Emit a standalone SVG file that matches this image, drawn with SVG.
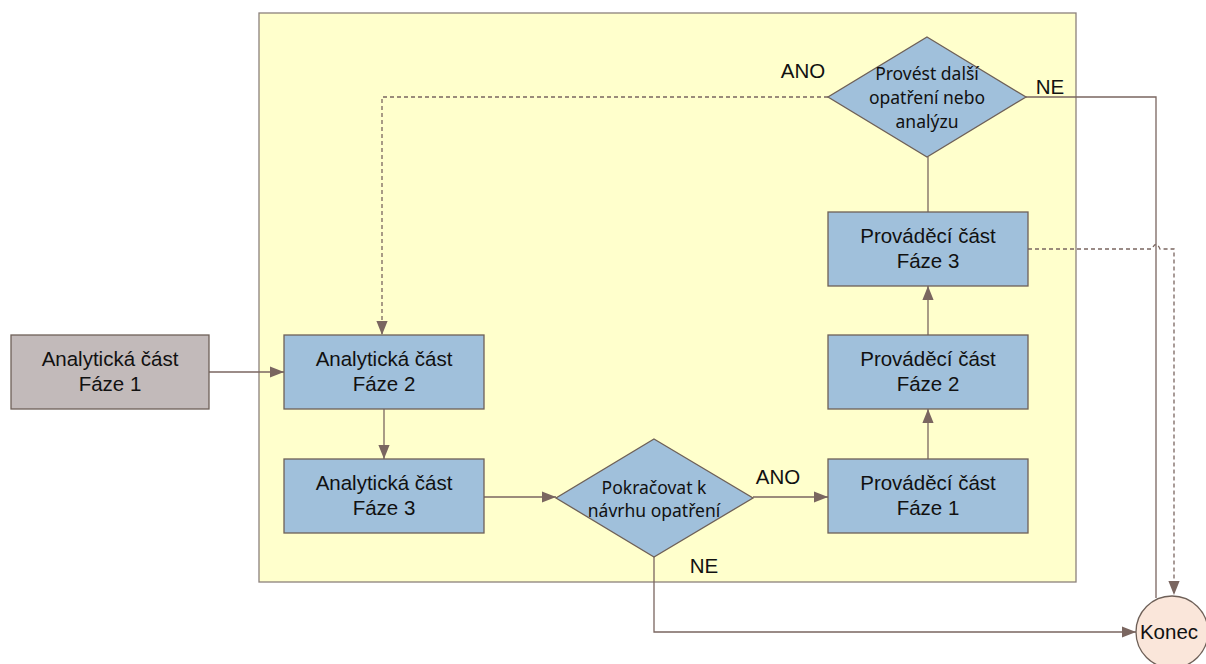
<svg xmlns="http://www.w3.org/2000/svg" width="1206" height="664" viewBox="0 0 1206 664">
  <style>
    .box { fill: #A0C0DB; stroke: #6E6058; stroke-width: 1.3; }
    .start { fill: #C2BABA; stroke: #6E6058; stroke-width: 1.3; }
    .end { fill: #FAE6DA; stroke: #6E6058; stroke-width: 1.3; }
    .lbl { font-family: "Liberation Sans", Arial, sans-serif; font-size: 20.5px; fill: #111; text-anchor: middle; }
    .dlbl { font-family: "Noto Sans", "Open Sans", sans-serif; font-size: 17.5px; fill: #111; text-anchor: middle; }
    .edge { fill: none; stroke: #7A6660; stroke-width: 1.3; }
    .dash { stroke-dasharray: 4 3; }
  </style>
  <defs>
    <marker id="arr" viewBox="0 0 10 10" refX="10" refY="5" markerWidth="14" markerHeight="14" markerUnits="userSpaceOnUse" orient="auto">
      <path d="M0,1 L10,5 L0,9 Z" fill="#7A6660"/>
    </marker>
  </defs>

  <rect width="1206" height="664" fill="#FFFFFF"/>

  <!-- process container -->
  <g id="container">
    <rect x="259" y="13" width="817" height="569" fill="#FFFFCC" stroke="#8C817C" stroke-width="1.3"/>
  </g>

  <!-- connectors -->
  <g id="connectors">
    <path class="edge" d="M209,372 H284" marker-end="url(#arr)"/>
    <path class="edge" d="M384,409 V459" marker-end="url(#arr)"/>
    <path class="edge" d="M484,497 H556" marker-end="url(#arr)"/>
    <path class="edge" d="M753,497 H828" marker-end="url(#arr)"/>
    <path class="edge" d="M928,459 V409" marker-end="url(#arr)"/>
    <path class="edge" d="M928,335 V286" marker-end="url(#arr)"/>
    <path class="edge" d="M928,212 V157"/>
    <path class="edge dash" d="M828,97 H382 V335" marker-end="url(#arr)"/>
    <path class="edge" d="M1026,97 H1156 V598"/>
    <path class="edge dash" d="M1028,249 H1152 Q1156,240 1160,249 H1174 V595" marker-end="url(#arr)"/>
    <path class="edge" d="M654,557 V632 H1136" marker-end="url(#arr)"/>
  </g>

  <!-- edge labels -->
  <g id="edge-labels">
    <text class="lbl" x="803" y="78">ANO</text>
    <text class="lbl" x="1050" y="94">NE</text>
    <text class="lbl" x="778" y="484">ANO</text>
    <text class="lbl" x="704" y="573">NE</text>
  </g>

  <g id="analyticka-1">
    <rect class="start" x="11" y="335" width="198" height="74"/>
    <text class="lbl" x="110" y="366">Analytická část</text>
    <text class="lbl" x="110" y="391">Fáze 1</text>
  </g>

  <g id="analyticka-2">
    <rect class="box" x="284" y="335" width="200" height="74"/>
    <text class="lbl" x="384" y="366">Analytická část</text>
    <text class="lbl" x="384" y="391">Fáze 2</text>
  </g>

  <g id="analyticka-3">
    <rect class="box" x="284" y="459" width="200" height="74"/>
    <text class="lbl" x="384" y="490">Analytická část</text>
    <text class="lbl" x="384" y="515">Fáze 3</text>
  </g>

  <g id="rozhodnuti-pokracovat">
    <polygon class="box" points="654,439 753,498 654,557 556,498"/>
    <text class="dlbl" x="654" y="494">Pokračovat k</text>
    <text class="dlbl" x="654" y="517">návrhu opatření</text>
  </g>

  <g id="provadeci-1">
    <rect class="box" x="828" y="459" width="200" height="74"/>
    <text class="lbl" x="928" y="490">Prováděcí část</text>
    <text class="lbl" x="928" y="515">Fáze 1</text>
  </g>

  <g id="provadeci-2">
    <rect class="box" x="828" y="335" width="200" height="74"/>
    <text class="lbl" x="928" y="366">Prováděcí část</text>
    <text class="lbl" x="928" y="391">Fáze 2</text>
  </g>

  <g id="provadeci-3">
    <rect class="box" x="828" y="212" width="200" height="74"/>
    <text class="lbl" x="928" y="243">Prováděcí část</text>
    <text class="lbl" x="928" y="268">Fáze 3</text>
  </g>

  <g id="rozhodnuti-dalsi">
    <polygon class="box" points="927,37 1026,97 927,157 828,97"/>
    <text class="dlbl" x="927" y="80">Provést další</text>
    <text class="dlbl" x="927" y="104">opatření nebo</text>
    <text class="dlbl" x="927" y="128">analýzu</text>
  </g>

  <g id="konec">
    <circle class="end" cx="1172" cy="632" r="36"/>
    <text class="lbl" x="1169" y="639">Konec</text>
  </g>
</svg>
